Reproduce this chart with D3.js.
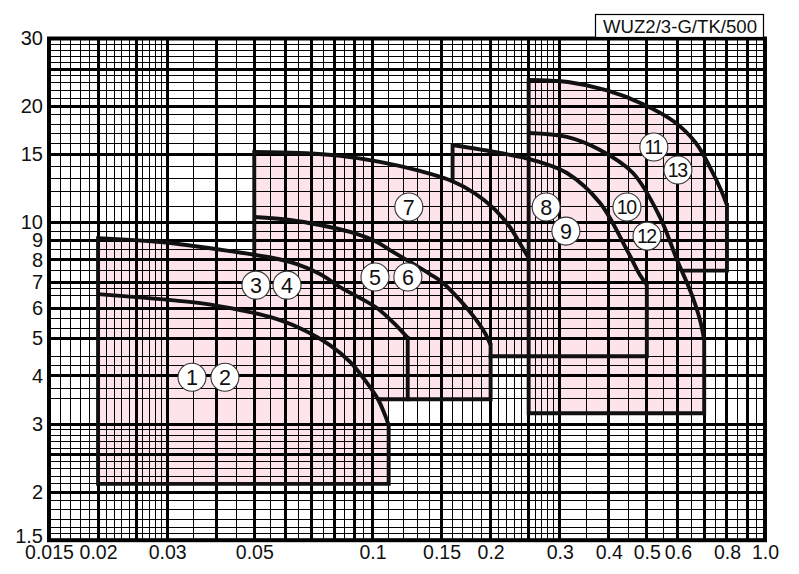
<!DOCTYPE html>
<html>
<head>
<meta charset="utf-8">
<script src="https://cdn.jsdelivr.net/npm/d3@7"></script>
<style>
  html, body { margin: 0; padding: 0; background: #fff; }
  svg { display: block; }
</style>
</head>
<body>
<svg id="chart" width="799" height="574"></svg>
<script>
// ---------------- DATA ----------------
const chartTitle = "WUZ2/3-G/TK/500";

const xLabelTicks = [0.015, 0.02, 0.03, 0.05, 0.1, 0.15, 0.2, 0.3, 0.4, 0.5, 0.6, 0.8, 1.0];
const yLabelTicks = [1.5, 2, 3, 4, 5, 6, 7, 8, 9, 10, 15, 20, 30];

const xGridThick = [0.02, 0.025, 0.03, 0.04, 0.05, 0.06, 0.07, 0.08, 0.09, 0.1, 0.15, 0.2, 0.25,
                    0.3, 0.4, 0.5, 0.6, 0.7, 0.8, 0.9];
const xGridThin = [0.016, 0.017, 0.018, 0.019, 0.021, 0.022, 0.023, 0.024, 0.026, 0.027, 0.028, 0.029,
                   0.035, 0.045, 0.055, 0.065, 0.075, 0.085, 0.095, 0.11, 0.12, 0.13, 0.14,
                   0.16, 0.17, 0.18, 0.19, 0.21, 0.22, 0.23, 0.24, 0.26, 0.27, 0.28, 0.29,
                   0.35, 0.45, 0.55, 0.65, 0.75, 0.85, 0.95];
const yGridThick = [2, 2.5, 3, 4, 5, 6, 7, 8, 9, 10, 15, 20, 25];
const yGridThin = [1.56, 1.62, 1.7, 1.8, 1.9, 2.1, 2.2, 2.3, 2.4, 2.6, 2.7, 2.8, 2.9, 3.5, 3.7,
                   4.25, 4.5, 5.3, 5.65, 6.45, 6.75, 7.5, 8.5, 9.5, 11, 12, 13, 14,
                   16, 17, 18, 19, 21, 22, 23, 24, 26, 27, 28, 29];

// performance curves (flow, head)
const curve12 = [[0.02, 6.52], [0.0288, 6.33], [0.0364, 6.18], [0.046, 5.93], [0.0548, 5.69],
                 [0.0654, 5.32], [0.0779, 4.81], [0.0877, 4.35], [0.0957, 3.9], [0.1033, 3.48],
                 [0.1076, 3.17], [0.11, 2.98]];
const curve34 = [[0.02, 9.11], [0.0288, 8.9], [0.0434, 8.43], [0.0558, 8.09], [0.0642, 7.8],
                 [0.0735, 7.35], [0.0827, 6.8], [0.093, 6.37], [0.1027, 6.0], [0.1141, 5.45],
                 [0.123, 5.02]];
const curve56 = [[0.05, 10.33], [0.0617, 10.15], [0.0735, 9.85], [0.0877, 9.45], [0.1015, 8.95],
                 [0.1108, 8.48], [0.1247, 7.9], [0.1401, 7.35], [0.1513, 6.97], [0.1671, 6.29],
                 [0.1824, 5.65], [0.1935, 5.17], [0.2, 4.81]];
const curve7 = [[0.05, 15.23], [0.0654, 15.14], [0.0827, 14.88], [0.1045, 14.36], [0.1321, 13.6],
                [0.1594, 12.81], [0.1824, 11.9], [0.2052, 10.8], [0.2241, 9.72], [0.2376, 8.82],
                [0.25, 8.09]];
const curve89 = [[0.16, 15.88], [0.2114, 15.14], [0.2564, 14.52], [0.3129, 13.44], [0.38, 11.23],
                 [0.445, 8.48], [0.4803, 7.31], [0.5, 6.89]];
const curve1012 = [[0.25, 17.07], [0.3129, 16.67], [0.38, 15.42], [0.461, 13.44], [0.54, 10.33],
                   [0.597, 7.99], [0.644, 6.68], [0.683, 5.59], [0.7, 4.96]];
const curve1113 = [[0.25, 23.42], [0.315, 23.13], [0.396, 22.0], [0.488, 20.3], [0.585, 18.3],
                   [0.666, 16.1], [0.727, 13.8], [0.771, 12.2], [0.8, 11.1]];

// straight boundary segments (flow, head)
const boundaryLines = [
  [[0.02, 9.11], [0.02, 2.1], [0.11, 2.1], [0.11, 2.98]],
  [[0.123, 5.02], [0.123, 3.48]],
  [[0.105, 3.48], [0.2, 3.48], [0.2, 4.81]],
  [[0.05, 8.19], [0.05, 15.23]],
  [[0.2, 4.5], [0.5, 4.5], [0.5, 6.89]],
  [[0.16, 12.81], [0.16, 15.88]],
  [[0.25, 23.42], [0.25, 3.2], [0.7, 3.2], [0.7, 4.96]],
  [[0.62, 7.5], [0.8, 7.5], [0.8, 11.1]]
];

// filled operating areas: top curve + closing corners
const areas = [
  { top: curve34, close: [[0.123, 3.48], [0.11, 3.48], [0.11, 2.1], [0.02, 2.1]] },
  { top: curve7, close: [[0.25, 4.5], [0.2, 4.5], [0.2, 3.48], [0.05, 3.48]] },
  { top: curve89, close: [[0.5, 4.5], [0.16, 4.5]] },
  { top: curve1113, close: [[0.8, 7.5], [0.7, 7.5], [0.7, 3.2], [0.25, 3.2]] }
];

// numbered labels (text, flow, head)
const labels = [
  ["1", 0.0347, 3.97], ["2", 0.0421, 3.97], ["3", 0.0505, 6.88], ["4", 0.0606, 6.88],
  ["5", 0.1015, 7.22], ["6", 0.1231, 7.22], ["7", 0.1238, 10.97], ["8", 0.277, 10.97],
  ["9", 0.311, 9.5], ["10", 0.445, 10.97], ["11", 0.521, 15.7], ["12", 0.5006, 9.22],
  ["13", 0.6, 13.68]
];

// ---------------- DRAW ----------------
const svg = d3.select("#chart");
const L = 49, R = 765, T = 38.5, B = 540.2;
const x = d3.scaleLog().domain([0.015, 1]).range([L, R]);
const y = d3.scaleLog().domain([1.5, 30]).range([B, T]);

const pink = "#fde3ea";
const font = "'Liberation Sans', Arial, Helvetica, sans-serif";

const smooth = d3.line().x(d => x(d[0])).y(d => y(d[1])).curve(d3.curveCatmullRom.alpha(0.5));
const straight = d3.line().x(d => x(d[0])).y(d => y(d[1]));

// pink areas
svg.append("g").selectAll("path").data(areas).join("path")
  .attr("d", a => smooth(a.top) + a.close.map(p => "L" + x(p[0]) + "," + y(p[1])).join("") + "Z")
  .attr("fill", pink).attr("stroke", "none");

// grid
const grid = svg.append("g").attr("stroke", "#000").attr("shape-rendering", "crispEdges");
grid.selectAll("line.vt").data(xGridThin).join("line").attr("class", "vt")
  .attr("x1", d => x(d)).attr("x2", d => x(d)).attr("y1", T).attr("y2", B).attr("stroke-width", 1);
grid.selectAll("line.ht").data(yGridThin).join("line").attr("class", "ht")
  .attr("x1", L).attr("x2", R).attr("y1", d => y(d)).attr("y2", d => y(d)).attr("stroke-width", 1);
grid.selectAll("line.vT").data(xGridThick).join("line").attr("class", "vT")
  .attr("x1", d => x(d)).attr("x2", d => x(d)).attr("y1", T).attr("y2", B).attr("stroke-width", 3);
grid.selectAll("line.hT").data(yGridThick).join("line").attr("class", "hT")
  .attr("x1", L).attr("x2", R).attr("y1", d => y(d)).attr("y2", d => y(d)).attr("stroke-width", 3);
svg.append("rect").attr("x", L).attr("y", T).attr("width", R - L).attr("height", B - T)
  .attr("fill", "none").attr("stroke", "#000").attr("stroke-width", 4);

// curve outlines
const outl = svg.append("g").attr("fill", "none").attr("stroke", "#111")
  .attr("stroke-width", 3.9).attr("stroke-linejoin", "miter").attr("stroke-linecap", "square");
[curve12, curve34, curve56, curve7, curve89, curve1012, curve1113].forEach(c =>
  outl.append("path").attr("d", smooth(c)).attr("stroke-linecap", "butt"));
boundaryLines.forEach(s => outl.append("path").attr("d", straight(s)));

// labels
const lg = svg.append("g").selectAll("g").data(labels).join("g")
  .attr("transform", d => `translate(${x(d[1])},${y(d[2])})`);
lg.append("circle").attr("r", 14).attr("fill", "#fff").attr("stroke", "#333").attr("stroke-width", 1.1);
lg.append("text").text(d => d[0])
  .attr("text-anchor", "middle").attr("dy", "0.36em")
  .attr("font-family", font)
  .attr("font-size", d => d[0].length > 1 ? 19.5 : 21.5)
  .attr("letter-spacing", d => d[0].length > 1 ? -1.5 : 0)
  .attr("dx", d => d[0].length > 1 ? -0.75 : 0)
  .attr("fill", "#111");

// axes
const xAxis = d3.axisBottom(x).tickValues(xLabelTicks).tickSize(0).tickPadding(5)
  .tickFormat(d => d === 1 ? "1.0" : String(d));
const yAxis = d3.axisLeft(y).tickValues(yLabelTicks).tickSize(0).tickPadding(6)
  .tickFormat(d => String(d));
const gx = svg.append("g").attr("transform", `translate(0,${B})`).call(xAxis);
const gy = svg.append("g").attr("transform", `translate(${L},0)`).call(yAxis);
gx.select(".domain").remove();
gy.select(".domain").remove();
gx.selectAll("text").attr("font-family", font).attr("font-size", 19.5).attr("fill", "#111");
gy.selectAll("text").attr("font-family", font).attr("font-size", 20).attr("fill", "#111");
// the lowest y label sits slightly above its line, as in the reference
gy.selectAll(".tick").filter(d => d === 1.5).select("text").attr("y", -4);

// title box
svg.append("rect").attr("x", 595.5).attr("y", 14.5).attr("width", 168).attr("height", 23)
  .attr("fill", "#fff").attr("stroke", "#000").attr("stroke-width", 1.2);
svg.append("text").attr("x", 603).attr("y", 33).text(chartTitle)
  .attr("font-family", font).attr("font-size", 18).attr("fill", "#111")
  .attr("textLength", 154).attr("lengthAdjust", "spacingAndGlyphs");
</script>
</body>
</html>
